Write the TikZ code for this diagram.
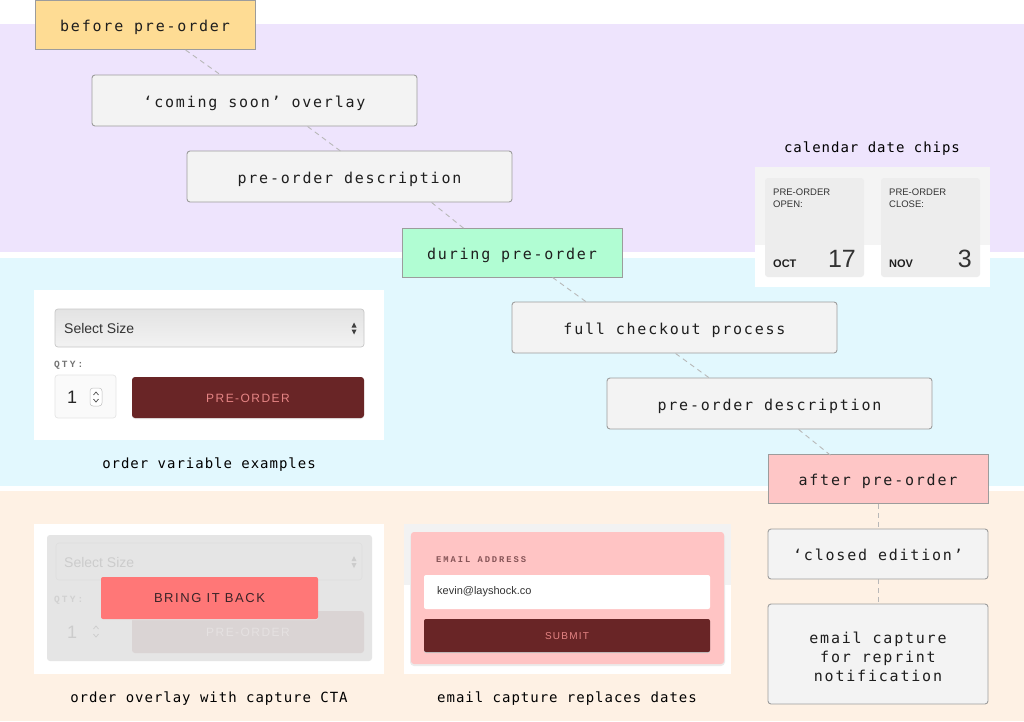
\documentclass[tikz,border=0pt]{standalone}
\usepackage{fontspec}
\setmainfont{Liberation Sans}
\newfontfamily\monoA[LetterSpace=12]{DejaVu Sans Mono}
\newfontfamily\monoB[LetterSpace=7]{DejaVu Sans Mono}
\newfontfamily\typeB[LetterSpace=22]{Liberation Mono}
\newfontfamily\sansLS[LetterSpace=12]{Liberation Sans}
\usetikzlibrary{calc}
\definecolor{bandpurple}{HTML}{EEE4FD}
\definecolor{bandcyan}{HTML}{E2F8FE}
\definecolor{bandpeach}{HTML}{FEF1E4}
\definecolor{fillorange}{HTML}{FEDC94}
\definecolor{fillmint}{HTML}{B1FDD3}
\definecolor{fillpink}{HTML}{FEC6C6}
\definecolor{nodegray}{HTML}{F3F3F3}
\definecolor{bordergray}{HTML}{9C9C9C}
\definecolor{dashgray}{HTML}{B8B8B8}
\definecolor{textdark}{HTML}{1E1E1E}
\definecolor{maroon}{HTML}{692526}
\definecolor{btntext}{HTML}{E58484}
\definecolor{chipgray}{HTML}{EDEDED}
\definecolor{panelgray}{HTML}{F4F4F4}
\definecolor{ctared}{HTML}{FF7777}
\definecolor{ctatext}{HTML}{3A2428}
\definecolor{cardpink}{HTML}{FFC4C4}
\definecolor{emaillabel}{HTML}{855457}
\definecolor{fadedbtn}{HTML}{DAD4D4}
\begin{document}
\begin{tikzpicture}[x=1pt,y=-1pt,
  flowfont/.style={font=\monoA\fontsize{15}{19}\selectfont, text=textdark},
  flow/.style={draw=bordergray, line width=0.9pt, flowfont, inner sep=0pt,
    align=center, text height=14pt, text depth=0.4pt},
  grayflow/.style={flow, fill=nodegray, rounded corners=3pt,
    minimum width=325pt, minimum height=51pt},
  stageflow/.style={flow, minimum width=220pt, minimum height=49pt},
  sideflow/.style={flow, fill=nodegray, rounded corners=3pt, minimum width=220pt},
  conn/.style={draw=dashgray, line width=0.9pt, dash pattern=on 5pt off 4pt},
  caption/.style={font=\monoB\fontsize{14}{17}\selectfont, text=black, inner sep=0pt},
  uitext/.style={inner sep=0pt, text=#1},
  btnlabel/.style={font=\sansLS\fontsize{12}{14}\selectfont, text=#1, inner sep=0pt},
  qtylabel/.style={font=\typeB\bfseries\fontsize{9.5}{11}\selectfont, text=#1, inner sep=0pt, anchor=west},
]
\useasboundingbox (0,0) rectangle (1024,721);
% background bands
\fill[white] (0,0) rectangle (1024,721);
\fill[bandpurple] (0,24) rectangle (1024,252);
\fill[bandcyan] (0,258) rectangle (1024,486);
\fill[bandpeach] (0,491) rectangle (1024,721);

% ---------- flow nodes ----------
\node[stageflow, fill=fillorange] (before) at (145,25) {before pre-order};
\node[grayflow] (soon) at (254.5,100.5) {‘coming soon’ overlay};
\node[grayflow] (desc1) at (349.5,176.5) {pre-order description};
\node[stageflow, fill=fillmint] (during) at (512,252.5) {during pre-order};
\node[grayflow] (checkout) at (674.5,327.5) {full checkout process};
\node[grayflow] (desc2) at (769.5,403.5) {pre-order description};
\node[stageflow, fill=fillpink] (after) at (878,479) {after pre-order};
\node[sideflow, minimum height=50pt] (closed) at (878,554) {‘closed edition’};
\node[draw=bordergray, line width=0.9pt, fill=nodegray, rounded corners=3pt,
  minimum width=220pt, minimum height=100pt, inner sep=0pt,
  label={[flowfont, align=center, inner sep=0pt, yshift=-2.5pt]center:email capture\\for reprint\\notification}]
  (capture) at (878,654) {};

% ---------- connectors ----------
\draw[conn] ([xshift=151pt]before.south west) -- ([xshift=130pt,yshift=-1pt]soon.north west);
\draw[conn] ([xshift=216pt]soon.south west) -- ([xshift=156pt,yshift=-2pt]desc1.north west);
\draw[conn] ([xshift=245pt]desc1.south west) -- ([xshift=65pt,yshift=-3pt]during.north west);
\draw[conn] ([xshift=151pt]during.south west) -- ([xshift=77pt,yshift=-2pt]checkout.north west);
\draw[conn] ([xshift=164pt]checkout.south west) -- ([xshift=105pt,yshift=-2pt]desc2.north west);
\draw[conn] ([xshift=192pt]desc2.south west) -- ([xshift=64pt,yshift=-2pt]after.north west);
\draw[conn] (after.south) -- (closed.north);
\draw[conn] (closed.south) -- (capture.north);

% ---------- widget A: order variable examples ----------
\fill[white] (34,290) rectangle (384,440);
\shade[top color=black!11, bottom color=black!5, rounded corners=3pt] (55,309) rectangle (364,347);
\draw[black!22, rounded corners=3pt, line width=0.7pt] (55,309) rectangle (364,347);
\node[uitext=black!80, anchor=west, font=\fontsize{14}{16}\selectfont] (sizeA) at (64,328) {Select Size};
\fill[black!75] (351.5,327.5) -- (356.5,327.5) -- (354,322.5) -- cycle;
\fill[black!75] (351.5,329.5) -- (356.5,329.5) -- (354,334.5) -- cycle;
\node[qtylabel=black!55] (qtyA) at (54,365) {QTY:};
\draw[black!10, fill=black!2, rounded corners=3pt, line width=0.7pt] (55,375) rectangle (116,418);
\node[uitext=black!85, anchor=west, font=\fontsize{18}{20}\selectfont] (oneA) at (67,397) {1};
\draw[black!25, fill=white, rounded corners=3pt, line width=0.5pt] (90,388) rectangle (102,406);
\draw[black!70, line width=0.7pt] (93.5,395) -- (96,392) -- (98.5,395);
\draw[black!70, line width=0.7pt] (93.5,399) -- (96,402) -- (98.5,399);
\fill[black!8, rounded corners=3pt] (132,378) rectangle (364,419);
\fill[maroon, rounded corners=3pt] (132,377) rectangle (364,418);
\node[btnlabel=btntext] (preA) at (248,398) {PRE-ORDER};
\node[caption] (capA) at (209,465) {order variable examples};

% ---------- widget B: calendar date chips ----------
\node[caption] (capB) at (872,149) {calendar date chips};
\fill[panelgray] (755,167) rectangle (990,245);
\fill[white] (755,245) rectangle (990,287);
\fill[chipgray, rounded corners=3pt] (765,178) rectangle (864,277);
\fill[chipgray, rounded corners=3pt] (881,178) rectangle (980,277);
\node[uitext=black!80, anchor=north west, align=left, font=\fontsize{9.5}{12}\selectfont] (openB) at (773,188.5) {PRE-ORDER\\OPEN:};
\node[uitext=black!80, anchor=north west, align=left, font=\fontsize{9.5}{12}\selectfont] (closeB) at (889,188.5) {PRE-ORDER\\CLOSE:};
\node[uitext=black!88, anchor=base west, font=\bfseries\fontsize{11}{13}\selectfont] (octB) at (773,267) {OCT};
\node[uitext=black!80, anchor=base east, font=\fontsize{25}{28}\selectfont] (d17) at (856,267) {17};
\node[uitext=black!88, anchor=base west, font=\bfseries\fontsize{11}{13}\selectfont] (novB) at (889,267) {NOV};
\node[uitext=black!80, anchor=base east, font=\fontsize{25}{28}\selectfont] (d3) at (972,267) {3};

% ---------- widget C: order overlay ----------
\fill[white] (34,524) rectangle (384,674);
\fill[black!10, rounded corners=3pt] (47,535) rectangle (372,661);
\draw[black!13, fill=black!10, rounded corners=3pt, line width=0.6pt] (56,543) rectangle (362,580);
\node[uitext=black!20, anchor=west, font=\fontsize{14}{16}\selectfont] (sizeC) at (64,562) {Select Size};
\fill[black!20] (351.5,561) -- (356.5,561) -- (354,556) -- cycle;
\fill[black!20] (351.5,563) -- (356.5,563) -- (354,568) -- cycle;
\node[qtylabel=black!18] (qtyC) at (54,600) {QTY:};
\node[uitext=black!20, anchor=west, font=\fontsize{18}{20}\selectfont] (oneC) at (67,632) {1};
\draw[black!20, line width=0.7pt] (93.5,629) -- (96,626) -- (98.5,629);
\draw[black!20, line width=0.7pt] (93.5,634) -- (96,637) -- (98.5,634);
\fill[fadedbtn, rounded corners=3pt] (132,611) rectangle (364,653);
\node[btnlabel=fadedbtn!70!white] (preC) at (248,632) {PRE-ORDER};
\fill[black!10, rounded corners=2pt] (101,578) rectangle (318,620);
\fill[ctared, rounded corners=2pt] (101,577) rectangle (318,619);
\node[font=\sansLS\fontsize{13}{15}\selectfont, text=ctatext, inner sep=0pt] (bring) at (209.5,598) {BRING IT BACK};
\node[caption] (capC) at (209,699) {order overlay with capture CTA};

% ---------- widget D: email capture ----------
\fill[black!5] (404,524) rectangle (731,585);
\fill[white] (404,585) rectangle (731,674);
\fill[black!8, rounded corners=4pt] (410,533) rectangle (725,666);
\fill[cardpink, rounded corners=3pt] (411,532) rectangle (724,664);
\node[font=\typeB\bfseries\fontsize{8.8}{10}\selectfont, text=emaillabel, inner sep=0pt, anchor=west] (emailD) at (436,560) {EMAIL ADDRESS};
\fill[white, rounded corners=2pt] (424,575) rectangle (710,609);
\node[uitext=black!80, anchor=west, font=\fontsize{11}{13}\selectfont] (kevin) at (437,592) {kevin@layshock.co};
\fill[black!20, rounded corners=2pt] (424,620) rectangle (710,653);
\fill[maroon, rounded corners=2pt] (424,619) rectangle (710,652);
\node[font=\sansLS\fontsize{10}{12}\selectfont, text=btntext, inner sep=0pt] (submit) at (567,636) {SUBMIT};
\node[caption] (capD) at (567,699) {email capture replaces dates};
\end{tikzpicture}
\end{document}
